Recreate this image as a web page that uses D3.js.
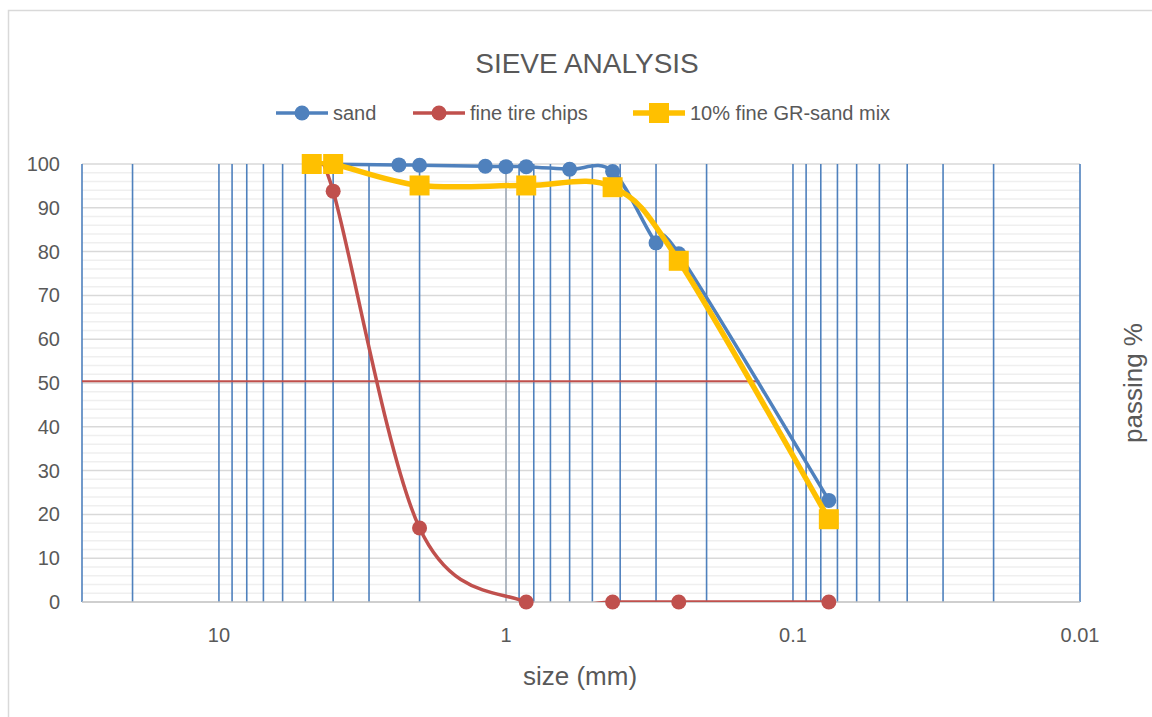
<!DOCTYPE html>
<html>
<head>
<meta charset="utf-8">
<script src="https://cdn.jsdelivr.net/npm/d3@7"></script>
<style>
    body { margin: 0; background: #fff; }
    svg { display: block; font-family: "Liberation Sans", Arial, sans-serif; }
</style>
</head>
<body>
<div id="chart"></div>
<script>
// sieve sizes (mm) and percent passing, per series
const sandSizes = [4.75, 2.36, 2.0, 1.18, 1.0, 0.85, 0.6, 0.425, 0.3, 0.25, 0.075];
const sandPassing = [100, 99.8, 99.7, 99.5, 99.4, 99.4, 98.8, 98.3, 82, 79.5, 23.2];

const chipSizes = [4.75, 4.0, 2.0, 0.85, 0.425, 0.25, 0.075];
const chipPassing = [100, 93.8, 16.9, 0, 0, 0, 0];

const mixSizes = [4.75, 4.0, 2.0, 0.85, 0.425, 0.25, 0.075];
const mixPassing = [100, 100, 95.1, 95.1, 94.7, 77.9, 18.9];

// D50 marker line
const d50Sizes = [30, 0.131];
const d50Passing = [50.4, 50.4];

const xTicks = [10, 1, 0.1, 0.01];
const yTicks = [0, 10, 20, 30, 40, 50, 60, 70, 80, 90, 100];
const seriesNames = ["sand", "fine tire chips", "10% fine GR-sand mix"];

const width = 1152, height = 717;
const plot = {left: 82, right: 1080, top: 164, bottom: 602};
const textColour = "#595959";

const svg = d3.select("#chart").append("svg")
    .attr("width", width)
    .attr("height", height);

svg.append("rect")
    .attr("x", 8.5).attr("y", 10.5)
    .attr("width", width).attr("height", height)
    .attr("fill", "none")
    .attr("stroke", "#d9d9d9")
    .attr("stroke-width", 1.5);

const x = d3.scaleLog().domain([30, 0.01]).range([plot.left, plot.right]);
const y = d3.scaleLinear().domain([0, 100]).range([plot.bottom, plot.top]);

// horizontal grid: minor every 2, major every 10
const minorY = d3.range(0, 101, 2).filter(v => v % 10 !== 0);
svg.append("g")
  .selectAll("line")
  .data(minorY)
  .enter().append("line")
    .attr("x1", plot.left).attr("x2", plot.right)
    .attr("y1", d => y(d)).attr("y2", d => y(d))
    .attr("stroke", "#efefef")
    .attr("stroke-width", 1.5);

svg.append("g")
  .selectAll("line")
  .data(yTicks.slice(1))
  .enter().append("line")
    .attr("x1", plot.left).attr("x2", plot.right)
    .attr("y1", d => y(d)).attr("y2", d => y(d))
    .attr("stroke", "#d9d9d9")
    .attr("stroke-width", 1.5);

// vertical log grid (major + minor)
const vGrid = [30, 20].concat(d3.range(10, 0, -1), d3.range(9, 0, -1).map(m => m / 10),
    d3.range(9, 0, -1).map(m => m / 100));

svg.append("g")
  .selectAll("line")
  .data(vGrid)
  .enter().append("line")
    .attr("x1", d => x(d)).attr("x2", d => x(d))
    .attr("y1", plot.top).attr("y2", plot.bottom)
    .attr("stroke", "#4f81bd")
    .attr("stroke-width", 1.6);

// axis lines
svg.append("line")
    .attr("x1", x(1)).attr("x2", x(1))
    .attr("y1", plot.top).attr("y2", plot.bottom)
    .attr("stroke", "#bfbfbf")
    .attr("stroke-width", 1.6);

svg.append("line")
    .attr("x1", plot.left).attr("x2", plot.right)
    .attr("y1", plot.bottom).attr("y2", plot.bottom)
    .attr("stroke", "#bfbfbf")
    .attr("stroke-width", 1.6);

// tick labels
svg.append("g")
    .attr("fill", textColour)
    .attr("font-size", 20)
  .selectAll("text")
  .data(yTicks)
  .enter().append("text")
    .attr("x", 60)
    .attr("y", d => y(d))
    .attr("dy", "0.35em")
    .attr("text-anchor", "end")
    .text(d => d);

svg.append("g")
    .attr("fill", textColour)
    .attr("font-size", 20)
  .selectAll("text")
  .data(xTicks)
  .enter().append("text")
    .attr("x", d => x(d))
    .attr("y", 635)
    .attr("dy", "0.35em")
    .attr("text-anchor", "middle")
    .text(d => d);

// titles
svg.append("text")
    .attr("x", 587).attr("y", 63)
    .attr("dy", "0.35em")
    .attr("text-anchor", "middle")
    .attr("fill", textColour)
    .attr("font-size", 28)
    .text("SIEVE ANALYSIS");

svg.append("text")
    .attr("x", 580).attr("y", 676)
    .attr("dy", "0.35em")
    .attr("text-anchor", "middle")
    .attr("fill", textColour)
    .attr("font-size", 26)
    .text("size (mm)");

svg.append("text")
    .attr("transform", "translate(1133, 383) rotate(-90)")
    .attr("dy", "0.35em")
    .attr("text-anchor", "middle")
    .attr("fill", textColour)
    .attr("font-size", 26)
    .text("passing %");

// clip lines to the plot area
svg.append("clipPath").attr("id", "plotClip")
  .append("rect")
    .attr("x", plot.left).attr("y", plot.top - 3)
    .attr("width", plot.right - plot.left)
    .attr("height", plot.bottom - plot.top + 3);

const zip = (s, p) => s.map((v, i) => ({size: v, pct: p[i]}));

svg.append("path")
    .datum(zip(d50Sizes, d50Passing))
    .attr("fill", "none")
    .attr("stroke", "#c0504d")
    .attr("stroke-width", 2)
    .attr("d", d3.line().x(d => x(d.size)).y(d => y(d.pct)));

const series = [
    {name: seriesNames[0], data: zip(sandSizes, sandPassing), colour: "#4f81bd", width: 3.5, marker: "circle"},
    {name: seriesNames[1], data: zip(chipSizes, chipPassing), colour: "#c0504d", width: 3.5, marker: "circle"},
    {name: seriesNames[2], data: zip(mixSizes, mixPassing), colour: "#ffc000", width: 5.5, marker: "square"}
];

const smooth = d3.line()
    .x(d => x(d.size))
    .y(d => y(d.pct))
    .curve(d3.curveCardinal.tension(0));

function drawMarker(g, type, colour) {
    if (type === "circle") {
        g.append("circle").attr("r", 7.5).attr("fill", colour);
    } else {
        g.append("rect")
            .attr("x", -10).attr("y", -10)
            .attr("width", 20).attr("height", 20)
            .attr("fill", colour);
    }
}

series.forEach(s => {
    const g = svg.append("g");
    g.append("path")
        .datum(s.data)
        .attr("clip-path", "url(#plotClip)")
        .attr("fill", "none")
        .attr("stroke", s.colour)
        .attr("stroke-width", s.width)
        .attr("stroke-linejoin", "round")
        .attr("d", smooth);

    g.selectAll("g.pt")
      .data(s.data)
      .enter().append("g")
        .attr("class", "pt")
        .attr("transform", d => "translate(" + x(d.size) + ", " + y(d.pct) + ")")
        .each(function() { drawMarker(d3.select(this), s.marker, s.colour); });
});

// legend
const legendX = [276, 413, 633];
const legend = svg.append("g")
  .selectAll("g")
  .data(series)
  .enter().append("g")
    .attr("transform", (d, i) => "translate(" + legendX[i] + ", 113)");

legend.append("line")
    .attr("x1", 0).attr("x2", 52)
    .attr("stroke", d => d.colour)
    .attr("stroke-width", d => d.width);

legend.append("g")
    .attr("transform", "translate(26, 0)")
    .each(function(d) { drawMarker(d3.select(this), d.marker, d.colour); });

legend.append("text")
    .attr("x", 57)
    .attr("dy", "0.35em")
    .attr("fill", textColour)
    .attr("font-size", 20)
    .text(d => d.name);
</script>
</body>
</html>
